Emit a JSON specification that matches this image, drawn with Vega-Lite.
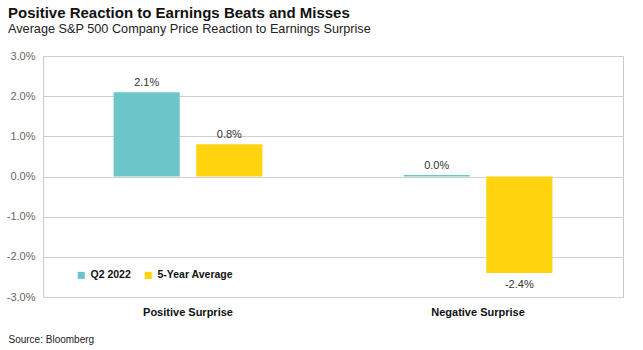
{
  "$schema": "https://vega.github.io/schema/vega-lite/v6.json",
  "width": 580,
  "height": 241,
  "autosize": "none",
  "padding": {"left": 43, "top": 56, "right": 20, "bottom": 53},
  "background": "white",
  "config": {
    "font": "Liberation Sans",
    "view": {"stroke": "#c8c8c8", "strokeWidth": 1},
    "locale": {"number": {"decimal": ".", "thousands": ",", "grouping": [3], "currency": ["$", ""], "minus": "-"}}
  },
  "title": {
    "text": "Positive Reaction to Earnings Beats and Misses",
    "subtitle": "Average S&P 500 Company Price Reaction to Earnings Surprise",
    "anchor": "start",
    "frame": "group",
    "dx": -35,
    "offset": 14,
    "font": "Liberation Sans",
    "fontSize": 15,
    "fontWeight": "bold",
    "color": "#111",
    "subtitleFont": "Liberation Sans",
    "subtitleFontSize": 12.7,
    "subtitleColor": "#222",
    "subtitlePadding": 2
  },
  "data": {
    "values": [
      {"category": "Positive Surprise", "series": "Q2 2022", "value": 0.021},
      {"category": "Positive Surprise", "series": "5-Year Average", "value": 0.008},
      {"category": "Negative Surprise", "series": "Q2 2022", "value": 0.0004},
      {"category": "Negative Surprise", "series": "5-Year Average", "value": -0.024}
    ]
  },
  "encoding": {
    "x": {
      "field": "category",
      "type": "nominal",
      "sort": ["Positive Surprise", "Negative Surprise"],
      "scale": {"paddingInner": 0.43, "paddingOuter": 0.215},
      "axis": {
        "labelAngle": 0,
        "labelFontWeight": "bold",
        "labelFontSize": 11,
        "labelColor": "#111",
        "labelPadding": 9,
        "ticks": false,
        "domain": false,
        "title": "Source: Bloomberg",
        "titleFontWeight": "normal",
        "titleFontSize": 10,
        "titleColor": "#222",
        "titleAnchor": "start",
        "titleAlign": "left",
        "titleX": -35,
        "titleY": 37
      }
    },
    "xOffset": {
      "field": "series",
      "type": "nominal",
      "sort": ["Q2 2022", "5-Year Average"],
      "scale": {"paddingInner": 0.2, "paddingOuter": 0.1}
    }
  },
  "layer": [
    {
      "mark": {"type": "bar"},
      "encoding": {
        "y": {
          "field": "value",
          "type": "quantitative",
          "scale": {"domain": [-0.03, 0.03], "nice": false},
          "axis": {
            "format": ".1%",
            "values": [-0.03, -0.02, -0.01, 0, 0.01, 0.02, 0.03],
            "title": null,
            "ticks": false,
            "domain": false,
            "labelFontSize": 11,
            "labelColor": "#666",
            "labelPadding": 8,
            "gridColor": "#d0d0d0",
            "gridWidth": 1
          }
        },
        "color": {
          "field": "series",
          "type": "nominal",
          "sort": ["Q2 2022", "5-Year Average"],
          "scale": {"domain": ["Q2 2022", "5-Year Average"], "range": ["#6CC5C9", "#FFD40F"]},
          "legend": {
            "title": null,
            "orient": "none",
            "legendX": 33,
            "legendY": 214,
            "direction": "horizontal",
            "symbolType": "square",
            "symbolSize": 50,
            "labelFontWeight": "bold",
            "labelFontSize": 10.5,
            "labelColor": "#111",
            "columnPadding": 12,
            "symbolStrokeWidth": 0
          }
        }
      }
    },
    {
      "transform": [{"filter": "datum.value >= 0"}],
      "mark": {"type": "text", "baseline": "bottom", "dy": -4, "fontSize": 11, "color": "#333"},
      "encoding": {
        "y": {"field": "value", "type": "quantitative"},
        "text": {"field": "value", "type": "quantitative", "format": ".1%"}
      }
    },
    {
      "transform": [{"filter": "datum.value < 0"}],
      "mark": {"type": "text", "baseline": "top", "dy": 6, "fontSize": 11, "color": "#333"},
      "encoding": {
        "y": {"field": "value", "type": "quantitative"},
        "text": {"field": "value", "type": "quantitative", "format": ".1%"}
      }
    }
  ]
}
